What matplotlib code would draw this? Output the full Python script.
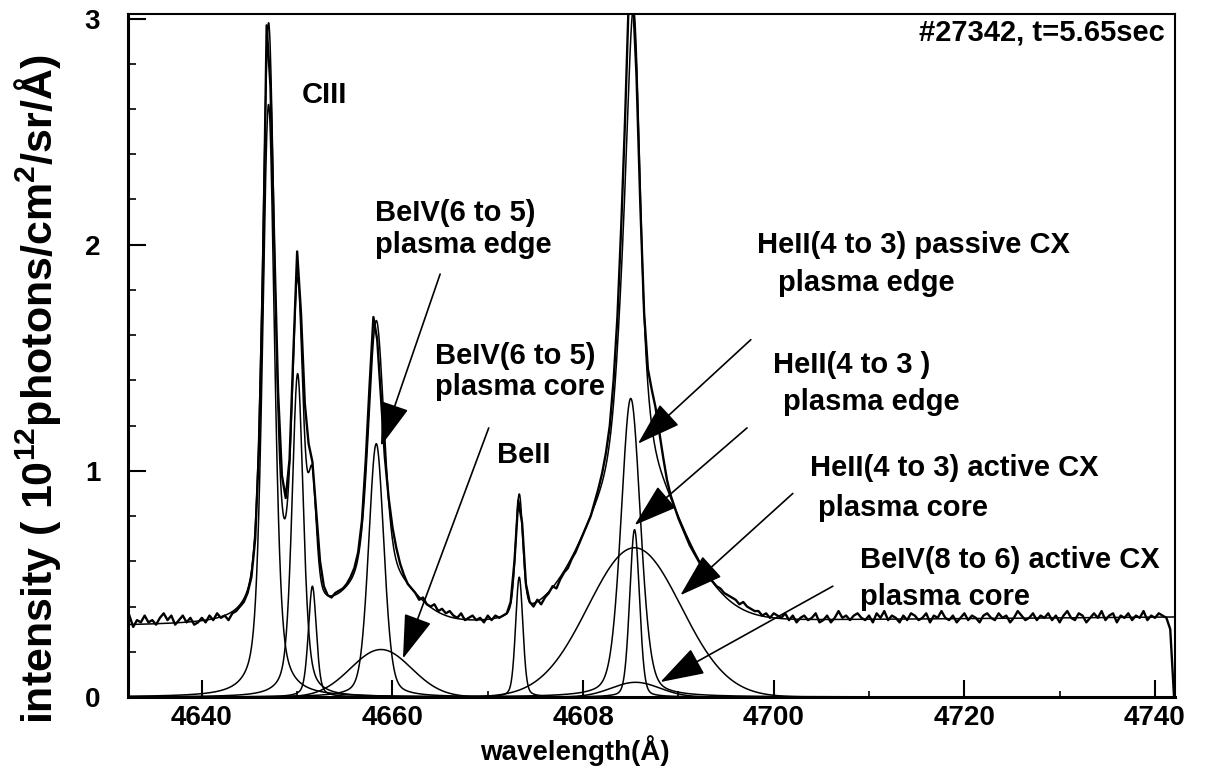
import numpy as np
import matplotlib
matplotlib.use("Agg")
import matplotlib.pyplot as plt
from matplotlib.ticker import MultipleLocator

plt.rcParams['font.family'] = ['Liberation Sans', 'DejaVu Sans']
plt.rcParams['font.weight'] = 'bold'
plt.rcParams['mathtext.fontset'] = 'custom'
plt.rcParams['mathtext.rm'] = 'Liberation Sans:bold'
plt.rcParams['mathtext.bf'] = 'Liberation Sans:bold'
plt.rcParams['mathtext.default'] = 'rm'

# measured spectrum, one sample every 0.4 A from 4632.4 A
wl_start = 4632.4
wl_step = 0.4
measured = [
    0.36, 0.31, 0.34, 0.33, 0.36, 0.33, 0.34, 0.32, 0.35, 0.37,
    0.34, 0.36, 0.32, 0.34, 0.36, 0.33, 0.35, 0.32, 0.33, 0.35,
    0.33, 0.36, 0.34, 0.37, 0.35, 0.36, 0.34, 0.37, 0.38, 0.40,
    0.42, 0.46, 0.53, 0.70, 1.10, 1.85, 2.97, 2.70, 2.00, 1.35,
    0.98, 0.88, 1.05, 1.52, 1.97, 1.70, 1.30, 1.12, 1.04, 0.82,
    0.60, 0.49, 0.45, 0.44, 0.46, 0.47, 0.48, 0.50, 0.53, 0.57,
    0.64, 0.78, 1.05, 1.38, 1.68, 1.58, 1.32, 1.06, 0.88, 0.75,
    0.66, 0.59, 0.54, 0.50, 0.48, 0.46, 0.43, 0.44, 0.41, 0.40,
    0.41, 0.38, 0.39, 0.37, 0.38, 0.36, 0.35, 0.37, 0.34, 0.35,
    0.36, 0.34, 0.35, 0.33, 0.36, 0.34, 0.36, 0.35, 0.36, 0.37,
    0.42, 0.60, 0.87, 0.77, 0.50, 0.42, 0.40, 0.43, 0.41, 0.44,
    0.46, 0.49, 0.48, 0.52, 0.55, 0.57, 0.61, 0.64, 0.68, 0.72,
    0.76, 0.80, 0.86, 0.92, 0.99, 1.08, 1.20, 1.40, 1.68, 2.08,
    2.55, 3.10, 3.12, 2.75, 2.18, 1.70, 1.45, 1.36, 1.28, 1.17,
    1.06, 0.96, 0.89, 0.84, 0.79, 0.75, 0.71, 0.67, 0.64, 0.61,
    0.58, 0.56, 0.53, 0.51, 0.49, 0.48, 0.46, 0.45, 0.44, 0.43,
    0.41, 0.42, 0.40, 0.39, 0.38, 0.38, 0.36, 0.37, 0.35, 0.37,
    0.36, 0.35, 0.37, 0.34, 0.36, 0.33, 0.35, 0.36, 0.34, 0.35,
    0.37, 0.33, 0.34, 0.36, 0.33, 0.35, 0.38, 0.35, 0.36, 0.34,
    0.36, 0.37, 0.35, 0.34, 0.36, 0.33, 0.37, 0.35, 0.38, 0.34,
    0.36, 0.35, 0.33, 0.36, 0.34, 0.37, 0.36, 0.34, 0.35, 0.37,
    0.33, 0.36, 0.35, 0.38, 0.35, 0.34, 0.36, 0.33, 0.35, 0.37,
    0.34, 0.36, 0.35, 0.33, 0.36, 0.37, 0.35, 0.34, 0.37, 0.35,
    0.36, 0.33, 0.35, 0.38, 0.36, 0.34, 0.35, 0.37, 0.34, 0.36,
    0.35, 0.37, 0.34, 0.36, 0.33, 0.36, 0.38, 0.35, 0.34, 0.37,
    0.36, 0.33, 0.35, 0.37, 0.35, 0.38, 0.34, 0.36, 0.37, 0.33,
    0.36, 0.35, 0.37, 0.34, 0.36, 0.35, 0.38, 0.34, 0.36, 0.35,
    0.37, 0.36, 0.35, 0.30, 0.00,
]

# fitted lines: centre (A), peak height, FWHM (A), Lorentzian fraction
line_names = ["CIII a", "CIII b", "CIII c", "BeIV 6-5 edge", "BeIV 6-5 core",
              "BeII", "HeII passive CX", "HeII edge", "HeII active CX",
              "BeIV 8-6 active CX"]
line_centres = [4647.0, 4650.05, 4651.6, 4658.3, 4658.8,
                4673.3, 4685.0, 4685.4, 4685.4, 4685.5]
line_heights = [2.62, 1.43, 0.49, 1.12, 0.21,
                0.53, 1.32, 0.74, 0.66, 0.065]
line_fwhm = [1.5, 1.4, 1.0, 1.9, 7.5,
             0.9, 2.4, 1.2, 11.5, 6.0]
line_lorentz = [0.5, 0.5, 0.4, 0.3, 0.0,
                0.3, 0.3, 0.2, 0.0, 0.0]

# linear background of the fit
bg_offset = 0.315
bg_slope = 0.00035

xtick_values = [4640, 4660, 4680, 4700, 4720, 4740]
xtick_labels = ["4640", "4660", "4608", "4700", "4720", "4740"]
ytick_values = [0, 1, 2, 3]


def pseudo_voigt(x, centre, height, fwhm, eta):
    r = (x - centre) / fwhm
    gauss = np.exp(-4 * np.log(2) * r ** 2)
    lorentz = 1.0 / (1.0 + 4 * r ** 2)
    return height * ((1 - eta) * gauss + eta * lorentz)


wl = wl_start + wl_step * np.arange(len(measured))
grid = np.linspace(4632.3, 4742.0, 4000)
components = [pseudo_voigt(grid, c, h, w, e)
              for c, h, w, e in zip(line_centres, line_heights, line_fwhm, line_lorentz)]
background = bg_offset + bg_slope * (grid - 4632.0)
fit_total = background + np.sum(components, axis=0)

fig = plt.figure(figsize=(12.05, 7.70), dpi=100)
ax = fig.add_axes([0.1062, 0.0948, 0.8689, 0.887])

ax.plot(wl, measured, color='k', lw=1.7)
ax.plot(grid, fit_total, color='k', lw=1.1)
for comp in components:
    ax.plot(grid, comp, color='k', lw=1.1)

ax.set_xlim(4632.25, 4742.1)
ax.set_ylim(0, 3.02)

ax.set_xticks(xtick_values)
ax.set_xticklabels(xtick_labels)
ax.set_yticks(ytick_values)
ax.xaxis.set_minor_locator(MultipleLocator(10))
ax.yaxis.set_minor_locator(MultipleLocator(0.2))
ax.tick_params(axis='both', which='both', direction='in', top=False, right=False)
ax.tick_params(axis='x', which='major', length=12, width=1.5, labelsize=20, pad=6)
ax.tick_params(axis='x', which='minor', length=4, width=1.2)
ax.tick_params(axis='y', which='major', length=13, width=1.5, labelsize=20, pad=20)
ax.tick_params(axis='y', which='minor', length=6, width=1.2)
for side in ['left', 'bottom']:
    ax.spines[side].set_linewidth(2.2)
for side in ['right', 'top']:
    ax.spines[side].set_linewidth(1.5)

ax.set_xlabel("wavelength(Å)", fontsize=20, fontweight='bold')
ax.xaxis.set_label_coords(0.427, -0.056)
ax.set_ylabel("intensity ( 10$^{12}$photons/cm$^{2}$/sr/Å)", fontsize=31, fontweight='bold')
ax.yaxis.set_label_coords(-0.062, 0.45)

txt = dict(fontsize=21, fontweight='bold', va='center', ha='left')
ax.text(4650.5, 2.66, "CIII", **txt)
ax.text(4658.15, 2.07, "BeIV(6 to 5)\nplasma edge", linespacing=1.15, **txt)
ax.text(4664.45, 1.44, "BeIV(6 to 5)\nplasma core", linespacing=1.15, **txt)
ax.text(4671.0, 1.07, "BeII", **txt)
ax.text(4698.2, 2.00, "HeII(4 to 3) passive CX", **txt)
ax.text(4700.5, 1.83, "plasma edge", **txt)
ax.text(4699.9, 1.47, "HeII(4 to 3 )", **txt)
ax.text(4701.0, 1.305, "plasma edge", **txt)
ax.text(4703.8, 1.013, "HeII(4 to 3) active CX", **txt)
ax.text(4704.6, 0.836, "plasma core", **txt)
ax.text(4709.05, 0.606, "BeIV(8 to 6) active CX", **txt)
ax.text(4709.05, 0.442, "plasma core", **txt)
ax.text(4741.0, 2.94, "#27342, t=5.65sec", fontsize=21, fontweight='bold',
        va='center', ha='right')

arrow_style = dict(arrowstyle='-|>,head_length=1.4,head_width=0.45', mutation_scale=20,
                   fc='k', ec='k', lw=1.2, shrinkA=0, shrinkB=0)
arrows = [
    ((4665.0, 1.87), (4658.8, 1.11)),
    ((4670.1, 1.19), (4661.1, 0.17)),
    ((4697.6, 1.58), (4685.75, 1.12)),
    ((4697.2, 1.19), (4685.4, 0.76)),
    ((4702.0, 0.90), (4690.2, 0.45)),
    ((4706.2, 0.49), (4688.1, 0.066)),
]
for start, tip in arrows:
    ax.annotate('', xy=tip, xytext=start, arrowprops=arrow_style)

fig.savefig('out.png', dpi=100)
